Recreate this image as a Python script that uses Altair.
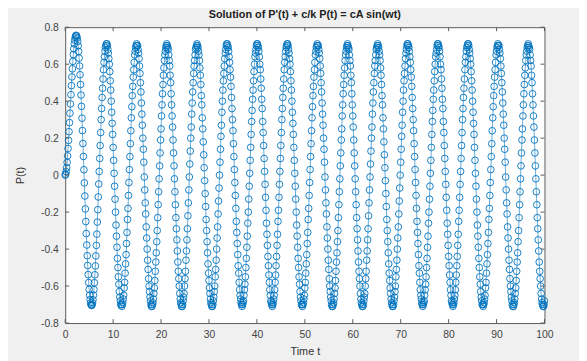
import altair as alt
import pandas as pd

# Time grid step (t = 0 : 0.1 : 100)
T_STEP = 0.1

# P(t) values, cycle by cycle
P_START = [0.0, 0.005, 0.019, 0.040, 0.069, 0.104, 0.144, 0.188]

P_CYCLE_00 = [
    0.235, 0.284, 0.335, 0.385, 0.435, 0.484, 0.531, 0.575, 0.615, 0.652,
    0.683, 0.710, 0.730, 0.745, 0.754, 0.756, 0.752, 0.741, 0.723, 0.699,
    0.669, 0.633, 0.590, 0.543, 0.490, 0.433, 0.372, 0.308, 0.241, 0.171,
    0.101, 0.029, -0.042, -0.113, -0.183, -0.251, -0.316, -0.378, -0.436, -0.489,
    -0.538, -0.581, -0.618, -0.649, -0.673, -0.691, -0.701, -0.705, -0.702, -0.691,
    -0.674, -0.649, -0.619, -0.582, -0.539, -0.491, -0.437, -0.380, -0.319, -0.254,
    -0.187, -0.118, -0.048]

P_CYCLE_01 = [
    0.02, 0.09, 0.16, 0.23, 0.30, 0.36, 0.42, 0.47, 0.52, 0.57,
    0.61, 0.64, 0.67, 0.69, 0.70, 0.71, 0.71, 0.70, 0.68, 0.66,
    0.63, 0.60, 0.56, 0.51, 0.46, 0.40, 0.34, 0.28, 0.22, 0.15,
    0.08, 0.01, -0.06, -0.13, -0.20, -0.27, -0.33, -0.39, -0.45, -0.50,
    -0.55, -0.59, -0.63, -0.66, -0.68, -0.70, -0.70, -0.71, -0.70, -0.69,
    -0.67, -0.65, -0.61, -0.58, -0.53, -0.48, -0.43, -0.37, -0.31, -0.24,
    -0.18, -0.11, -0.04]

P_CYCLE_02 = [
    0.03, 0.10, 0.17, 0.24, 0.31, 0.37, 0.43, 0.48, 0.53, 0.57,
    0.61, 0.65, 0.67, 0.69, 0.70, 0.71, 0.70, 0.70, 0.68, 0.66,
    0.63, 0.59, 0.55, 0.50, 0.45, 0.39, 0.33, 0.27, 0.20, 0.14,
    0.07, -0.01, -0.08, -0.15, -0.21, -0.28, -0.34, -0.40, -0.46, -0.51,
    -0.56, -0.60, -0.63, -0.66, -0.68, -0.70, -0.71, -0.71, -0.70, -0.69,
    -0.67, -0.64, -0.61, -0.57, -0.52, -0.47, -0.42, -0.36, -0.30, -0.23,
    -0.16, -0.09, -0.02]

P_CYCLE_03 = [
    0.05, 0.12, 0.19, 0.25, 0.32, 0.38, 0.44, 0.49, 0.54, 0.58,
    0.62, 0.65, 0.67, 0.69, 0.70, 0.71, 0.70, 0.69, 0.68, 0.65,
    0.62, 0.59, 0.54, 0.50, 0.44, 0.38, 0.32, 0.26, 0.19, 0.12,
    0.05, -0.02, -0.09, -0.16, -0.23, -0.29, -0.35, -0.41, -0.47, -0.52,
    -0.56, -0.60, -0.64, -0.67, -0.69, -0.70, -0.71, -0.71, -0.70, -0.68,
    -0.66, -0.64, -0.60, -0.56, -0.52, -0.46, -0.41, -0.35, -0.29, -0.22,
    -0.15, -0.08, -0.01]

P_CYCLE_04 = [
    0.06, 0.13, 0.20, 0.26, 0.33, 0.39, 0.45, 0.50, 0.55, 0.59,
    0.62, 0.65, 0.68, 0.69, 0.70, 0.71, 0.70, 0.69, 0.67, 0.65,
    0.62, 0.58, 0.54, 0.49, 0.43, 0.38, 0.31, 0.25, 0.18, 0.11,
    0.04, -0.03, -0.10, -0.17, -0.24, -0.30, -0.36, -0.42, -0.48, -0.53,
    -0.57, -0.61, -0.64, -0.67, -0.69, -0.70, -0.71, -0.71, -0.70, -0.68,
    -0.66, -0.63, -0.60, -0.55, -0.51, -0.46, -0.40, -0.34, -0.28, -0.21,
    -0.14, -0.07, 0.00]

P_CYCLE_05 = [
    0.07, 0.14, 0.21, 0.27, 0.34, 0.40, 0.46, 0.51, 0.55, 0.59,
    0.63, 0.66, 0.68, 0.70, 0.71, 0.71, 0.70, 0.69, 0.67, 0.64,
    0.61, 0.57, 0.53, 0.48, 0.42, 0.36, 0.30, 0.24, 0.17, 0.10,
    0.03, -0.04, -0.11, -0.18, -0.25, -0.31, -0.37, -0.43, -0.49, -0.53,
    -0.58, -0.62, -0.65, -0.67, -0.69, -0.70, -0.71, -0.70, -0.69, -0.68,
    -0.65, -0.62, -0.59, -0.55, -0.50, -0.45, -0.39, -0.33, -0.26, -0.20,
    -0.13, -0.06]

P_CYCLE_06 = [
    0.01, 0.08, 0.15, 0.22, 0.29, 0.35, 0.41, 0.46, 0.51, 0.56,
    0.60, 0.64, 0.66, 0.68, 0.70, 0.71, 0.71, 0.70, 0.69, 0.67,
    0.64, 0.60, 0.57, 0.52, 0.47, 0.41, 0.36, 0.29, 0.23, 0.16,
    0.09, 0.02, -0.05, -0.12, -0.19, -0.26, -0.32, -0.38, -0.44, -0.49,
    -0.54, -0.58, -0.62, -0.65, -0.68, -0.69, -0.70, -0.71, -0.70, -0.69,
    -0.67, -0.65, -0.62, -0.58, -0.54, -0.49, -0.44, -0.38, -0.32, -0.25,
    -0.19, -0.12, -0.05]

P_CYCLE_07 = [
    0.02, 0.09, 0.16, 0.23, 0.30, 0.36, 0.42, 0.47, 0.52, 0.57,
    0.61, 0.64, 0.67, 0.69, 0.70, 0.71, 0.71, 0.70, 0.68, 0.66,
    0.63, 0.60, 0.56, 0.51, 0.46, 0.40, 0.34, 0.28, 0.22, 0.15,
    0.08, 0.01, -0.06, -0.13, -0.20, -0.27, -0.33, -0.39, -0.45, -0.50,
    -0.55, -0.59, -0.63, -0.66, -0.68, -0.70, -0.70, -0.71, -0.70, -0.69,
    -0.67, -0.65, -0.61, -0.58, -0.53, -0.48, -0.43, -0.37, -0.31, -0.24,
    -0.18, -0.11, -0.04]

P_CYCLE_08 = [
    0.03, 0.10, 0.17, 0.24, 0.31, 0.37, 0.43, 0.48, 0.53, 0.57,
    0.61, 0.65, 0.67, 0.69, 0.70, 0.71, 0.70, 0.70, 0.68, 0.66,
    0.63, 0.59, 0.55, 0.50, 0.45, 0.39, 0.33, 0.27, 0.20, 0.14,
    0.07, -0.01, -0.08, -0.15, -0.21, -0.28, -0.34, -0.40, -0.46, -0.51,
    -0.56, -0.60, -0.63, -0.66, -0.68, -0.70, -0.71, -0.71, -0.70, -0.69,
    -0.67, -0.64, -0.61, -0.57, -0.52, -0.47, -0.42, -0.36, -0.30, -0.23,
    -0.16, -0.09, -0.02]

P_CYCLE_09 = [
    0.05, 0.12, 0.19, 0.25, 0.32, 0.38, 0.44, 0.49, 0.54, 0.58,
    0.62, 0.65, 0.67, 0.69, 0.70, 0.71, 0.70, 0.69, 0.68, 0.65,
    0.62, 0.59, 0.54, 0.50, 0.44, 0.38, 0.32, 0.26, 0.19, 0.12,
    0.05, -0.02, -0.09, -0.16, -0.23, -0.29, -0.35, -0.41, -0.47, -0.52,
    -0.56, -0.60, -0.64, -0.67, -0.69, -0.70, -0.71, -0.71, -0.70, -0.68,
    -0.66, -0.64, -0.60, -0.56, -0.52, -0.46, -0.41, -0.35, -0.29, -0.22,
    -0.15, -0.08, -0.01]

P_CYCLE_10 = [
    0.06, 0.13, 0.20, 0.26, 0.33, 0.39, 0.45, 0.50, 0.55, 0.59,
    0.62, 0.65, 0.68, 0.69, 0.70, 0.71, 0.70, 0.69, 0.67, 0.65,
    0.62, 0.58, 0.54, 0.49, 0.43, 0.38, 0.31, 0.25, 0.18, 0.11,
    0.04, -0.03, -0.10, -0.17, -0.24, -0.30, -0.36, -0.42, -0.48, -0.53,
    -0.57, -0.61, -0.64, -0.67, -0.69, -0.70, -0.71, -0.71, -0.70, -0.68,
    -0.66, -0.63, -0.60, -0.55, -0.51, -0.46, -0.40, -0.34, -0.28, -0.21,
    -0.14, -0.07, 0.00]

P_CYCLE_11 = [
    0.07, 0.14, 0.21, 0.27, 0.34, 0.40, 0.46, 0.51, 0.55, 0.59,
    0.63, 0.66, 0.68, 0.70, 0.71, 0.71, 0.70, 0.69, 0.67, 0.64,
    0.61, 0.57, 0.53, 0.48, 0.42, 0.36, 0.30, 0.24, 0.17, 0.10,
    0.03, -0.04, -0.11, -0.18, -0.25, -0.31, -0.37, -0.43, -0.49, -0.53,
    -0.58, -0.62, -0.65, -0.67, -0.69, -0.70, -0.71, -0.70, -0.69, -0.68,
    -0.65, -0.62, -0.59, -0.55, -0.50, -0.45, -0.39, -0.33, -0.26, -0.20,
    -0.13, -0.06]

P_CYCLE_12 = [
    0.01, 0.08, 0.15, 0.22, 0.29, 0.35, 0.41, 0.46, 0.51, 0.56,
    0.60, 0.64, 0.66, 0.68, 0.70, 0.71, 0.71, 0.70, 0.69, 0.67,
    0.64, 0.60, 0.57, 0.52, 0.47, 0.41, 0.36, 0.29, 0.23, 0.16,
    0.09, 0.02, -0.05, -0.12, -0.19, -0.26, -0.32, -0.38, -0.44, -0.49,
    -0.54, -0.58, -0.62, -0.65, -0.68, -0.69, -0.70, -0.71, -0.70, -0.69,
    -0.67, -0.65, -0.62, -0.58, -0.54, -0.49, -0.44, -0.38, -0.32, -0.25,
    -0.19, -0.12, -0.05]

P_CYCLE_13 = [
    0.02, 0.09, 0.16, 0.23, 0.30, 0.36, 0.42, 0.47, 0.52, 0.57,
    0.61, 0.64, 0.67, 0.69, 0.70, 0.71, 0.71, 0.70, 0.68, 0.66,
    0.63, 0.60, 0.56, 0.51, 0.46, 0.40, 0.34, 0.28, 0.22, 0.15,
    0.08, 0.01, -0.06, -0.13, -0.20, -0.27, -0.33, -0.39, -0.45, -0.50,
    -0.55, -0.59, -0.63, -0.66, -0.68, -0.70, -0.70, -0.71, -0.70, -0.69,
    -0.67, -0.65, -0.61, -0.58, -0.53, -0.48, -0.43, -0.37, -0.31, -0.24,
    -0.18, -0.11, -0.04]

P_CYCLE_14 = [
    0.03, 0.10, 0.17, 0.24, 0.31, 0.37, 0.43, 0.48, 0.53, 0.57,
    0.61, 0.65, 0.67, 0.69, 0.70, 0.71, 0.70, 0.70, 0.68, 0.66,
    0.63, 0.59, 0.55, 0.50, 0.45, 0.39, 0.33, 0.27, 0.20, 0.14,
    0.07, -0.01, -0.08, -0.15, -0.21, -0.28, -0.34, -0.40, -0.46, -0.51,
    -0.56, -0.60, -0.63, -0.66, -0.68, -0.70, -0.71, -0.71, -0.70, -0.69,
    -0.67, -0.64, -0.61, -0.57, -0.52, -0.47, -0.42, -0.36, -0.30, -0.23,
    -0.16, -0.09, -0.02]

P_CYCLE_15 = [
    0.05, 0.12, 0.19, 0.25, 0.32, 0.38, 0.44, 0.49, 0.54, 0.58,
    0.62, 0.65, 0.67, 0.69, 0.70, 0.71, 0.70, 0.69, 0.68, 0.65,
    0.62, 0.59, 0.54, 0.50, 0.44, 0.38, 0.32, 0.26, 0.19, 0.12,
    0.05, -0.02, -0.09, -0.16, -0.23, -0.29, -0.35, -0.41, -0.47, -0.52,
    -0.56, -0.60, -0.64, -0.67, -0.69, -0.70, -0.71, -0.71, -0.70, -0.68]

X_TICKS = [0, 10, 20, 30, 40, 50, 60, 70, 80, 90, 100]
Y_TICKS = [-0.8, -0.6, -0.4, -0.2, 0.0, 0.2, 0.4, 0.6, 0.8]

TITLE = "Solution of P'(t) + c/k P(t) = cA sin(wt)"
X_TITLE = "Time t"
Y_TITLE = "P(t)"

P = (P_START + P_CYCLE_00 + P_CYCLE_01 + P_CYCLE_02 + P_CYCLE_03 + P_CYCLE_04
     + P_CYCLE_05 + P_CYCLE_06 + P_CYCLE_07 + P_CYCLE_08 + P_CYCLE_09
     + P_CYCLE_10 + P_CYCLE_11 + P_CYCLE_12 + P_CYCLE_13 + P_CYCLE_14
     + P_CYCLE_15)
t = [round(i * T_STEP, 1) for i in range(len(P))]
df = pd.DataFrame({"t": t, "P": P})
xt = pd.DataFrame({"v": X_TICKS})
yt = pd.DataFrame({"v": Y_TICKS})

W, H = 486, 300
BLUE = "#0072BD"
AX = "#5a5a5a"
FONT = "Liberation Sans"

xs = alt.Scale(domain=[0, 100], nice=False, zero=False)
ys = alt.Scale(domain=[-0.8, 0.8], nice=False, zero=False)

xaxis = alt.Axis(values=X_TICKS, title=X_TITLE, ticks=False, domain=False, grid=False,
                 labelOverlap=False, labelFlush=False,
                 labelPadding=7, labelFontSize=10.5, labelColor="#444", labelFont=FONT,
                 titleFont=FONT, titleFontSize=11, titleFontWeight="normal",
                 titleColor="#333", titlePadding=5)
yaxis = alt.Axis(values=Y_TICKS, title=Y_TITLE, ticks=False, domain=False, grid=False,
                 labelOverlap=False, labelFlush=False,
                 labelPadding=7, labelFontSize=10.5, labelColor="#444", labelFont=FONT,
                 labelExpr="datum.value == 0 ? '0' : replace(format(datum.value, '.1f'), '\u2212', '-')",
                 titleFont=FONT, titleFontSize=11, titleFontWeight="normal",
                 titleColor="#333", titlePadding=15)

base = alt.Chart(df)
line = base.mark_line(color=BLUE, strokeWidth=0.6).encode(
    x=alt.X("t:Q", scale=xs, axis=xaxis),
    y=alt.Y("P:Q", scale=ys, axis=yaxis),
)
pts = base.mark_point(shape="circle", filled=False, size=46, strokeWidth=0.9,
                      color=BLUE, opacity=1).encode(
    x=alt.X("t:Q", scale=xs, axis=xaxis),
    y=alt.Y("P:Q", scale=ys, axis=yaxis),
)

TL = 4
xb = alt.Chart(xt).mark_rule(color=AX, strokeWidth=1).encode(
    x=alt.X("v:Q", scale=xs, axis=xaxis), y=alt.value(H), y2=alt.value(H - TL))
xtp = alt.Chart(xt).mark_rule(color=AX, strokeWidth=1).encode(
    x=alt.X("v:Q", scale=xs, axis=xaxis), y=alt.value(0), y2=alt.value(TL))
yl = alt.Chart(yt).mark_rule(color=AX, strokeWidth=1).encode(
    y=alt.Y("v:Q", scale=ys, axis=yaxis), x=alt.value(0), x2=alt.value(TL))
yr = alt.Chart(yt).mark_rule(color=AX, strokeWidth=1).encode(
    y=alt.Y("v:Q", scale=ys, axis=yaxis), x=alt.value(W - TL), x2=alt.value(W))

chart = alt.layer(line, pts, xb, xtp, yl, yr).properties(
    width=W, height=H,
    title=alt.Title(TITLE, font=FONT, fontSize=11, fontWeight="bold", color="#222",
                    anchor="middle", offset=2),
    background="#f0f0f0",
    padding={"left": 58, "top": 17, "right": 35, "bottom": 36},
    autosize=alt.AutoSizeParams(type="none"),
).configure_view(stroke=AX, strokeWidth=1, fill="white"
).configure_axis(labelOverlap=False)

chart.save("out.html", embed_options={"renderer": "svg", "actions": False})
